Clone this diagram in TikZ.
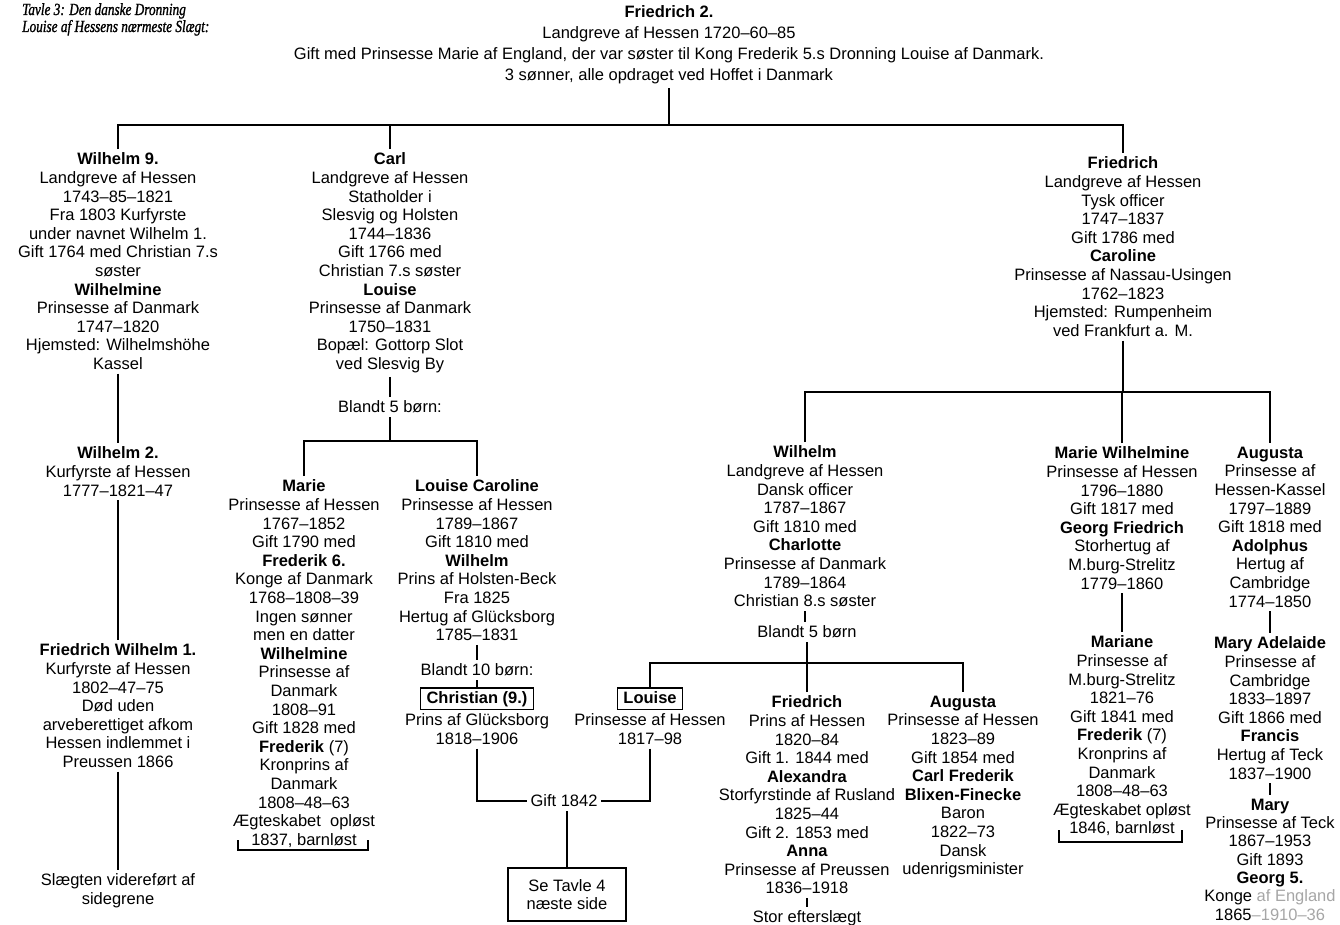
\documentclass[tikz,border=0pt]{standalone}
\usepackage{fontspec}
\setmainfont{Liberation Sans}
\newfontfamily\titelfont[FakeStretch=0.78,FakeBold=1.2]{Liberation Serif}

\newcommand{\slfont}{\fontsize{16.5}{18.6}\selectfont}

\tikzset{
  person/.style={align=center, anchor=north, inner sep=0pt, outer sep=4pt, font=\slfont},
  navnfelt/.style={draw, line width=1.6pt, anchor=north, inner xsep=6pt, inner ysep=3pt, outer sep=0pt, text height=12pt, text depth=3.5pt, font=\slfont},
  henvisning/.style={draw, line width=2.4pt, anchor=north, align=center, inner sep=0pt, outer sep=0pt, minimum width=118pt, minimum height=53pt, font=\slfont},
  streg/.style={line width=2.6pt},
}

\begin{document}
\begin{tikzpicture}[x=1pt,y=-1pt]
\useasboundingbox (0,0) rectangle (1340,924);

\node[anchor=north west, align=left, inner sep=0pt, font=\titelfont\itshape\fontsize{17}{17}\selectfont] (titel) at (22,3)
  {Tavle 3: Den danske Dronning\\Louise af Hessens nærmeste Slægt:};

\node[person, font=\fontsize{16.5}{21}\selectfont] (fr2) at (669,2)
  {\textbf{Friedrich 2.}\\Landgreve af Hessen 1720–60–85\\Gift med Prinsesse Marie af England, der var søster til Kong Frederik 5.s Dronning Louise af Danmark.\\3 sønner, alle opdraget ved Hoffet i Danmark};

\node[person] (w9) at (118,149)
  {\textbf{Wilhelm 9.}\\Landgreve af Hessen\\1743–85–1821\\Fra 1803 Kurfyrste\\under navnet Wilhelm 1.\\Gift 1764 med Christian 7.s\\søster\\\textbf{Wilhelmine}\\Prinsesse af Danmark\\1747–1820\\Hjemsted: Wilhelmshöhe\\Kassel};
\node[person] (carl) at (390,149)
  {\textbf{Carl}\\Landgreve af Hessen\\Statholder i\\Slesvig og Holsten\\1744–1836\\Gift 1766 med\\Christian 7.s søster\\\textbf{Louise}\\Prinsesse af Danmark\\1750–1831\\Bopæl: Gottorp Slot\\ved Slesvig By};
\node[person] (fri) at (1123,153)
  {\textbf{Friedrich}\\Landgreve af Hessen\\Tysk officer\\1747–1837\\Gift 1786 med\\\textbf{Caroline}\\Prinsesse af Nassau-Usingen\\1762–1823\\Hjemsted: Rumpenheim\\ved Frankfurt a. M.};

\coordinate (b1) at (669,125);
\draw[streg] (fr2.south) -- (b1);
\draw[streg] (w9.north) |- (b1) -| (fri.north);
\draw[streg] (carl.north) -- (carl.north |- b1);

\node[person] (w2) at (118,443)
  {\textbf{Wilhelm 2.}\\Kurfyrste af Hessen\\1777–1821–47};
\node[person] (fw1) at (118,640)
  {\textbf{Friedrich Wilhelm 1.}\\Kurfyrste af Hessen\\1802–47–75\\Død uden\\arveberettiget afkom\\Hessen indlemmet i\\Preussen 1866};
\node[person] (slaegt) at (118,870)
  {Slægten videreført af\\sidegrene};
\draw[streg] (w9.south) -- (w2.north);
\draw[streg] (w2.south) -- (fw1.north);
\draw[streg] (fw1.south) -- (slaegt.north);

\node[person] (blandt1) at (390,397) {Blandt 5 børn:};
\coordinate (b2) at (390,441);
\draw[streg] (carl.south) -- (blandt1.north);
\draw[streg] (blandt1.south) -- (b2);

\node[person] (marie) at (304,476)
  {\textbf{Marie}\\Prinsesse af Hessen\\1767–1852\\Gift 1790 med\\\textbf{Frederik 6.}\\Konge af Danmark\\1768–1808–39\\Ingen sønner\\men en datter\\\textbf{Wilhelmine}\\Prinsesse af\\Danmark\\1808–91\\Gift 1828 med\\\textbf{Frederik} (7)\\Kronprins af\\Danmark\\1808–48–63\\Ægteskabet\ \ opløst\\1837, barnløst};
\node[person] (lcar) at (477,476)
  {\textbf{Louise Caroline}\\Prinsesse af Hessen\\1789–1867\\Gift 1810 med\\\textbf{Wilhelm}\\Prins af Holsten-Beck\\Fra 1825\\Hertug af Glücksborg\\1785–1831};
\draw[streg] (marie.north) |- (b2) -| (lcar.north);
\draw[streg] (238,840) |- (368,850) -- (368,840);

\node[person] (blandt2) at (477,660) {Blandt 10 børn:};
\node[navnfelt] (chr) at (477,688) {\textbf{Christian (9.)}};
\node[person] (chrx) at (477,710) {Prins af Glücksborg\\1818–1906};
\draw[streg] (lcar.south) -- (blandt2.north);
\draw[streg] (blandt2.south) -- (chr.north);

\coordinate (b3) at (1123,392);
\draw[streg] (fri.south) -- (b3);

\node[person] (wil) at (805,442)
  {\textbf{Wilhelm}\\Landgreve af Hessen\\Dansk officer\\1787–1867\\Gift 1810 med\\\textbf{Charlotte}\\Prinsesse af Danmark\\1789–1864\\Christian 8.s søster};
\node[person] (marw) at (1122,443)
  {\textbf{Marie Wilhelmine}\\Prinsesse af Hessen\\1796–1880\\Gift 1817 med\\\textbf{Georg Friedrich}\\Storhertug af\\M.burg-Strelitz\\1779–1860};
\node[person] (augr) at (1270,443)
  {\textbf{Augusta}\\Prinsesse af\\Hessen-Kassel\\1797–1889\\Gift 1818 med\\\textbf{Adolphus}\\Hertug af\\Cambridge\\1774–1850};
\draw[streg] (wil.north) |- (b3) -| (augr.north);
\draw[streg] (marw.north) -- (marw.north |- b3);

\node[person] (blandt3) at (807,622) {Blandt 5 børn};
\coordinate (b4) at (807,663);
\draw[streg] (wil.south) -- (wil.south |- blandt3.north);
\draw[streg] (blandt3.south) -- (b4);

\node[navnfelt] (lou) at (650,688) {\textbf{Louise}};
\node[person] (loux) at (650,710) {Prinsesse af Hessen\\1817–98};
\node[person] (fri2) at (807,692)
  {\textbf{Friedrich}\\Prins af Hessen\\1820–84\\Gift 1. 1844 med\\\textbf{Alexandra}\\Storfyrstinde af Rusland\\1825–44\\Gift 2. 1853 med\\\textbf{Anna}\\Prinsesse af Preussen\\1836–1918};
\node[person] (stor) at (807,907) {Stor efterslægt};
\node[person] (aug) at (963,692)
  {\textbf{Augusta}\\Prinsesse af Hessen\\1823–89\\Gift 1854 med\\\textbf{Carl Frederik}\\\textbf{Blixen-Finecke}\\Baron\\1822–73\\Dansk\\udenrigsminister};
\draw[streg] (lou.north) |- (b4) -| (aug.north);
\draw[streg] (fri2.north) -- (fri2.north |- b4);
\draw[streg] (fri2.south) -- (stor.north);

\node[person] (gift) at (564,791) {Gift 1842};
\node[henvisning] (tavle4) at (567,868) {Se Tavle 4\\næste side};
\draw[streg] (chrx.south) |- (gift.west);
\draw[streg] (loux.south) |- (gift.east);
\draw[streg] (gift.south -| tavle4.north) -- (tavle4.north);

\node[person] (mariane) at (1122,632)
  {\textbf{Mariane}\\Prinsesse af\\M.burg-Strelitz\\1821–76\\Gift 1841 med\\\textbf{Frederik} (7)\\Kronprins af\\Danmark\\1808–48–63\\Ægteskabet opløst\\1846, barnløst};
\draw[streg] (marw.south) -- (mariane.north);
\draw[streg] (1059,830) |- (1182,842) -- (1182,830);

\node[person] (marya) at (1270,633)
  {\textbf{Mary Adelaide}\\Prinsesse af\\Cambridge\\1833–1897\\Gift 1866 med\\\textbf{Francis}\\Hertug af Teck\\1837–1900};
\node[person, font=\fontsize{16.5}{18.3}\selectfont] (mary) at (1270,795)
  {\textbf{Mary}\\Prinsesse af Teck\\1867–1953\\Gift 1893\\\textbf{Georg 5.}\\Konge \textcolor{gray!70}{af England}\\1865\textcolor{gray!70}{–1910–36}};
\draw[streg] (augr.south) -- (marya.north);
\draw[streg] (marya.south) -- (mary.north);

\end{tikzpicture}
\end{document}
